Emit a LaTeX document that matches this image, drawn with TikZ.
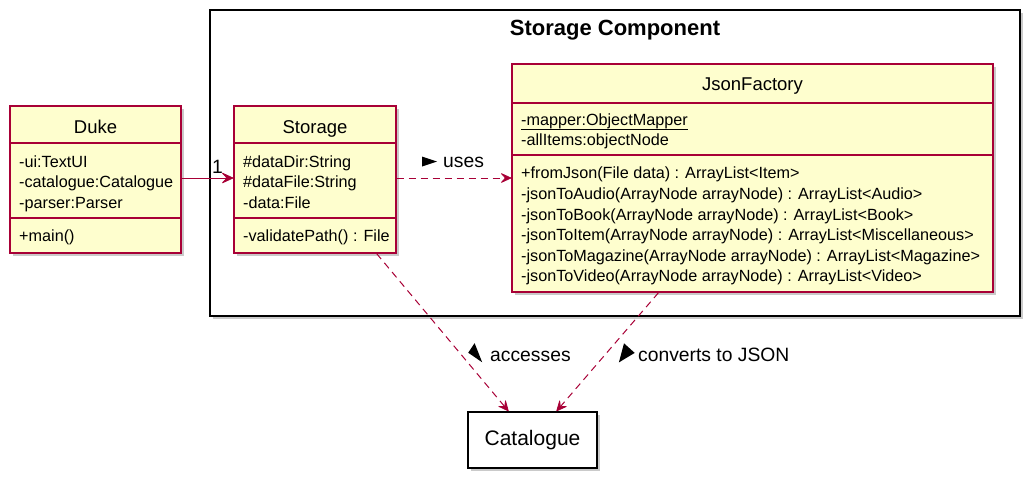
\documentclass[tikz,border=0pt]{standalone}
\usepackage{fontspec}
\setmainfont{Liberation Sans}
\usetikzlibrary{arrows.meta,shadows,calc}
\definecolor{clsfill}{HTML}{FEFECE}
\definecolor{clsborder}{HTML}{A80036}
\begin{document}
\begin{tikzpicture}[x=1pt,y=-1pt,
  cls/.style={draw=clsborder,line width=1.3pt,fill=clsfill,inner sep=0pt,
    drop shadow={shadow xshift=3pt,shadow yshift=-3pt,opacity=0.35,fill=black!60}},
  clsline/.style={draw=clsborder,line width=1.1pt},
  hdr/.style={inner sep=0pt,anchor=base,font=\fontsize{18.5}{21}\selectfont},
  attr/.style={inner sep=0pt,anchor=base west,font=\fontsize{16.2}{19}\selectfont},
  lbl/.style={inner sep=0pt,anchor=base west,font=\fontsize{19.3}{22}\selectfont},
  dep/.style={draw=clsborder,line width=1pt,dash pattern=on 7pt off 5pt,
    -{Stealth[length=12pt,width=11pt,inset=5pt,line width=0.8pt,round]}},
  assoc/.style={draw=clsborder,line width=1pt,
    -{Stealth[length=13pt,width=12pt,inset=5.5pt,line width=0.8pt,round]}},
  tri/.style={fill=black},
]
\useasboundingbox (0,0) rectangle (1035,485);

% package
\node[draw=black,line width=1.6pt,fill=white,inner sep=0pt,minimum width=810,minimum height=306,
  drop shadow={shadow xshift=3pt,shadow yshift=-3pt,opacity=0.35,fill=black!60}] (pkg) at (615,163) {};
\node[inner sep=0pt,anchor=base,font=\bfseries\fontsize{22}{25}\selectfont] (pkgtitle) at (615,35.5) {Storage Component};

% Duke
\node[cls,minimum width=171,minimum height=147] (duke) at (95.5,179.5) {};
\draw[clsline] (duke.west |- 0,143) -- (duke.east |- 0,143);
\draw[clsline] (duke.west |- 0,218) -- (duke.east |- 0,218);
\node[hdr] (dukeh) at (duke.north |- 0,133) {Duke};
\node[attr] (duke1) at (19,167) {-ui:TextUI};
\node[attr] (duke2) at (19,187.7) {-catalogue:Catalogue};
\node[attr] (duke3) at (19,208) {-parser:Parser};
\node[attr] (duke4) at (19,241) {+main()};

% Storage
\node[cls,minimum width=162,minimum height=147] (storage) at (315,179.5) {};
\draw[clsline] (storage.west |- 0,143) -- (storage.east |- 0,143);
\draw[clsline] (storage.west |- 0,218) -- (storage.east |- 0,218);
\node[hdr] (storageh) at (storage.north |- 0,133) {Storage};
\node[attr] (st1) at (243,167) {\#dataDir:String};
\node[attr] (st2) at (243,187.7) {\#dataFile:String};
\node[attr] (st3) at (243,208) {-data:File};
\node[attr] (st4) at (243,241) {-validatePath() : File};

% JsonFactory
\node[cls,minimum width=481,minimum height=228] (jf) at (752.5,178) {};
\draw[clsline] (jf.west |- 0,103) -- (jf.east |- 0,103);
\draw[clsline] (jf.west |- 0,155) -- (jf.east |- 0,155);
\node[hdr] (jfh) at (jf.north |- 0,90) {JsonFactory};
\node[attr] (jf1) at (521,125.7) {-mapper:ObjectMapper};
\draw[line width=0.9pt] ($(jf1.base west)+(0,4)$) -- ($(jf1.base east)+(0,4)$);
\node[attr] (jf2) at (521,145.7) {-allItems:objectNode};
\node[attr] (jf3) at (521,178.3) {+fromJson(File data) : ArrayList<Item>};
\node[attr] (jf4) at (521,199) {-jsonToAudio(ArrayNode arrayNode) : ArrayList<Audio>};
\node[attr] (jf5) at (521,220) {-jsonToBook(ArrayNode arrayNode) : ArrayList<Book>};
\node[attr] (jf6) at (521,240.7) {-jsonToItem(ArrayNode arrayNode) : ArrayList<Miscellaneous>};
\node[attr] (jf7) at (521,261) {-jsonToMagazine(ArrayNode arrayNode) : ArrayList<Magazine>};
\node[attr] (jf8) at (521,281.7) {-jsonToVideo(ArrayNode arrayNode) : ArrayList<Video>};

% Catalogue
\node[draw=black,line width=1.7pt,fill=white,inner sep=0pt,minimum width=129,minimum height=56,
  font=\fontsize{21}{23}\selectfont,
  drop shadow={shadow xshift=3pt,shadow yshift=-3pt,opacity=0.35,fill=black!60}] (cat) at (532.5,440) {Catalogue};

% connectors
\draw[assoc] (duke.east |- 0,178) -- (storage.west |- 0,178);
\node[lbl] (one) at (212,173) {1};

\draw[dep] (storage.east |- 0,178) -- (jf.west |- 0,178);
\fill[tri] (437,161.5) -- (422,156.5) -- (422,166.5) -- cycle;
\node[lbl] (uses) at (443,167) {uses};

\draw[dep] ($(storage.south east)+(-20,0)$) -- ($(cat.north)+(-24,0)$);
\fill[tri] (474.6,343.2) -- (468.2,352.7) -- (482.2,362.3) -- cycle;
\node[lbl] (acc) at (490,361) {accesses};

\draw[dep] ($(jf.south)+(-94,0)$) -- ($(cat.north)+(24,0)$);
\fill[tri] (624.0,343.3) -- (634.7,352.9) -- (618.9,362.4) -- cycle;
\node[lbl] (conv) at (638,361.7) {converts to JSON};
\end{tikzpicture}
\end{document}
